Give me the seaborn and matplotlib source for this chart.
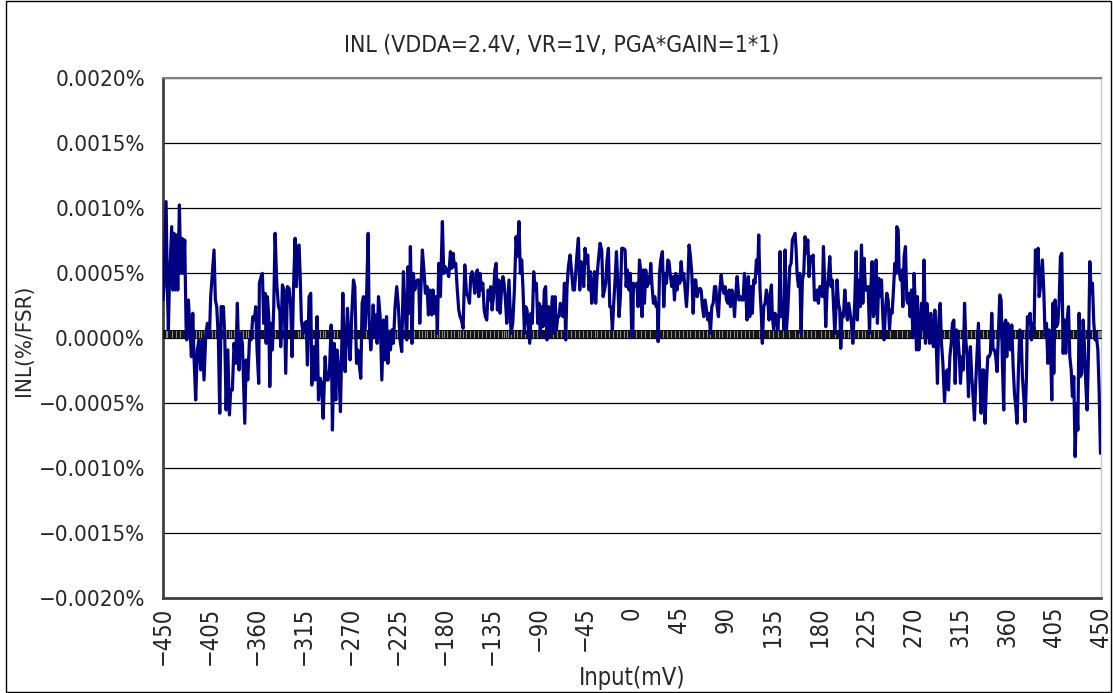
import matplotlib
matplotlib.use("Agg")
import matplotlib.pyplot as plt
import seaborn as sns
from matplotlib.patches import Rectangle

# Input voltage (mV) and INL (%/FSR)
input_mv = [
    -450.0, -449.1, -447.1, -445.9, -444.9, -443.9, -441.7, -440.7, -439.5, -438.2,
    -436.9, -435.9, -434.3, -433.1, -431.8, -430.5, -429.2, -427.9, -427.3, -425.7,
    -424.1, -422.8, -421.5, -420.3, -418.7, -417.1, -415.5, -413.9, -412.3, -410.7,
    -409.1, -407.5, -405.5, -404.3, -402.7, -401.1, -399.8, -398.5, -396.9, -395.6,
    -394.3, -392.1, -390.8, -389.5, -387.9, -386.3, -385.1, -383.5, -381.9, -380.3,
    -378.7, -377.1, -375.8, -373.9, -371.6, -370.3, -368.7, -367.1, -365.5, -363.9,
    -362.3, -361.1, -359.8, -358.2, -357.6, -355.9, -354.7, -353.4, -352.1, -351.1,
    -349.9, -348.6, -347.6, -346.3, -345.1, -343.8, -342.5,
    -340.9, -339.3, -338.0, -337.1, -335.5, -333.9, -332.3, -330.7, -329.1, -327.5,
    -326.2, -324.9, -323.3, -322.0, -320.7, -319.5, -318.5, -317.3, -315.6, -314.0,
    -312.7, -311.5, -309.9, -308.3, -307.3, -305.7, -304.1, -302.2, -300.9, -299.3,
    -298.0, -296.4, -294.5, -293.2, -291.6, -290.3, -288.7, -287.5, -285.9, -284.3,
    -283.0, -281.4, -279.8, -278.5, -277.5, -276.3, -275.3, -274.0, -273.1, -271.8,
    -270.5, -268.9, -267.3, -266.0, -264.4, -263.1, -261.9, -260.3, -259.0, -257.7,
    -256.4, -254.8, -253.2, -252.3, -250.7, -249.4, -248.4, -247.1, -245.9, -244.6,
    -243.3, -241.7, -240.1, -238.5, -236.9, -235.6, -234.3, -233.1, -231.8, -230.5,
    -229.0, -227.4, -225.8, -224.2, -222.6, -221.0, -219.4, -217.8, -216.2, -214.9,
    -213.6, -212.7, -211.1, -209.8, -208.5, -207.2, -205.9, -204.7, -203.7, -202.4,
    -201.2, -199.5, -198.3, -196.7, -195.4, -193.8, -192.2, -190.9, -189.6, -188.0,
    -186.8, -185.5, -183.9, -182.0, -180.7, -179.4, -177.8, -175.9, -174.3, -173.0,
    -171.7, -170.5, -169.2, -167.9, -166.3, -165.0, -163.7, -162.1, -160.5, -158.9,
    -157.3, -156.0, -154.8, -153.5, -152.2, -150.9, -149.6, -148.4, -147.1, -145.8,
    -144.5, -143.2, -141.9, -140.7, -139.4, -138.1, -136.8, -135.6, -134.3, -133.0,
    -131.7, -130.4, -129.2, -127.9, -126.6, -125.3, -124.0, -122.8, -121.5, -120.2,
    -118.1, -116.1, -114.5, -112.9, -111.3, -110.1, -108.5, -107.2, -105.9, -104.6,
    -103.3, -102.1, -100.8, -99.5, -98.2, -96.9, -95.7, -94.4, -93.1, -91.8,
    -90.5, -89.3, -88.0, -86.7, -85.4, -84.2, -82.9, -81.6, -80.3, -79.0,
    -77.7, -76.5, -75.2, -73.9, -72.6, -71.3, -70.1, -68.8, -67.5, -66.2,
    -64.9, -63.7, -62.4, -61.1, -59.5, -57.9, -56.6, -55.3, -54.1, -52.8,
    -51.5, -50.2, -48.9, -47.7, -46.4, -45.1, -43.8, -42.5, -41.3, -40.0,
    -38.7, -37.4, -36.1, -34.9, -33.6, -32.3, -30.7, -29.1, -27.8, -26.5,
    -25.3, -24.0, -22.7, -21.4, -20.1, -18.9, -17.6, -16.3, -15.0, -13.7,
    -12.5, -11.2, -9.9, -8.6,
    -6.7, -5.7, -4.5, -2.9, -1.6, -0.3, 0.7, 1.3, 2.9, 4.5,
    5.8, 7.1, 8.3, 9.6, 10.9, 11.9, 13.1, 14.4, 15.7, 17.0,
    17.9, 19.2, 20.5, 21.8, 23.1, 24.3, 25.0, 26.3, 27.5, 29.1,
    30.4, 31.7, 33.0, 34.3, 35.5, 36.8, 38.1, 39.4, 40.7, 41.9,
    43.2, 44.5, 45.8, 47.1, 48.3, 49.6, 50.9, 52.2, 53.5, 54.7,
    56.0, 57.3, 58.6, 59.9, 61.1, 62.4, 63.7, 65.0, 66.3, 67.5,
    68.8, 70.1, 71.4, 72.7, 73.9, 75.2, 76.5, 77.8, 79.1, 80.3,
    81.6, 82.9, 84.2, 85.5, 86.7, 88.0, 89.3, 90.6, 91.9, 93.1,
    94.4, 95.7, 97.0, 98.3, 99.5, 100.8,
    102.6, 103.9, 105.2, 106.5, 107.8, 109.0, 110.3, 111.6, 112.9, 114.2,
    115.4, 116.7, 118.0, 119.3, 120.6, 121.5, 122.8, 124.1, 125.0, 126.3,
    127.6, 128.9, 130.2, 131.4, 132.7, 133.7, 134.6, 135.9, 137.2, 138.5,
    139.8, 141.0, 142.0, 143.3, 144.6, 145.8, 146.8, 148.1, 149.4, 150.3,
    151.3, 152.6, 153.8, 155.1, 156.4, 157.4, 158.3, 159.6, 160.9, 162.2,
    163.4, 164.7, 166.0, 167.3, 168.6, 169.8, 171.1, 172.4, 173.7, 175.0,
    176.2, 177.5, 178.8, 180.1, 181.4, 182.6, 183.6, 184.6, 185.8, 187.1,
    188.4, 189.7, 191.0, 192.2, 193.5, 194.5, 195.8, 196.7, 198.0, 199.3,
    200.2, 201.5, 202.8, 204.1, 205.4, 206.6, 207.9, 209.2, 210.5, 211.8,
    213.7, 215.0, 216.2, 217.5, 218.8, 220.1, 221.4, 222.6, 223.9, 225.2,
    226.5, 227.8, 229.0, 230.3, 231.6, 232.9, 234.2, 235.4, 236.7, 238.0,
    239.3, 240.6, 241.8, 243.1, 244.4, 245.7, 247.0, 248.2, 249.5, 250.8,
    252.1, 253.4, 254.0, 255.3, 256.2, 257.5, 258.8, 259.8, 261.0, 262.3,
    263.6, 264.6, 265.5, 266.8, 268.1, 269.4, 270.6, 271.6, 272.9, 273.8,
    275.1, 276.4, 277.7, 279.0, 280.2, 281.5, 282.8, 284.1, 285.4, 286.6,
    287.9, 289.2, 290.5, 291.8, 293.0, 294.3, 295.6, 296.9, 298.2, 299.8,
    301.0, 302.3, 303.6, 304.9, 306.2, 307.4, 308.7, 310.0, 311.3, 312.6,
    313.8, 315.1, 316.4, 317.7, 319.0, 320.2, 321.5, 322.8,
    323.3, 324.6, 325.9, 327.2, 328.5, 329.7, 331.0, 332.3, 333.6, 334.9,
    336.1, 337.4, 338.7, 340.0, 341.3, 342.5, 343.8, 345.1, 346.4, 347.7,
    348.9, 350.2, 351.5, 352.8, 354.1, 355.3, 356.6, 357.6, 358.5, 359.5,
    360.5, 361.7, 363.0, 364.3, 365.6, 366.9, 368.1, 369.4, 370.7, 372.0,
    373.3, 374.5, 375.8, 377.1, 378.4, 379.3, 380.6, 381.9, 383.2, 384.5,
    385.7, 387.0, 388.3, 389.6, 390.5, 391.5, 392.5, 393.7, 395.0, 396.3,
    397.6, 398.9, 400.1, 401.4, 402.7, 403.7, 404.6, 405.9, 407.2, 408.5,
    409.7, 411.0, 412.3, 413.6, 414.9, 416.1, 417.4, 418.7, 420.0, 421.3,
    422.5, 423.8, 425.1, 426.4, 427.7, 428.9, 430.2, 431.5, 432.8, 434.1,
    435.3, 436.6, 437.9, 439.2, 440.5, 441.7, 443.0, 444.3, 445.6, 446.9,
    448.1, 449.4, 450.0,
]

inl_pct = [
    0.000292, 0.000395, 0.001049, 0.000395, 0.000062, 0.000421, 0.000856, 0.000369, 0.000805, 0.000369,
    0.000792, 0.000369, 0.001023, 0.000497, 0.000767, 0.000497, 0.000754, 0.000087, -0.000015, 0.000292,
    0.000062, -0.000144, 0.000190, -0.000144, -0.000477, -0.000092, -0.000015, -0.000246, -0.000015, -0.000323,
    0.000010, 0.000113, 0.000010, 0.000318, 0.000497, 0.000677, 0.000292, 0.000241, -0.000015, -0.000579,
    0.000241, 0.000241, 0.000010, -0.000554, -0.000092, -0.000592, -0.000400, -0.000400, -0.000041, -0.000195,
    0.000267, -0.000246, 0.000036, -0.000041, -0.000656, -0.000169, -0.000323, -0.000015, -0.000015, 0.000164,
    0.000138, 0.000241, -0.000092, -0.000349, 0.000421, 0.000472, 0.000497, 0.000113, 0.000344, -0.000041,
    0.000318, 0.000164, -0.000374, 0.000113, -0.000092, 0.000241, 0.000805,
    0.000421, 0.000241, 0.000215, -0.000067, 0.000408, 0.000369, -0.000272, 0.000395, 0.000382, 0.000241,
    -0.000144, 0.000369, 0.000767, 0.000395, 0.000703, 0.000715, 0.000497, 0.000138, 0.000036, 0.000113,
    0.000126, -0.000208, 0.000318, 0.000344, -0.000362, -0.000067, -0.000323, 0.000164, -0.000477, -0.000310,
    -0.000349, -0.000618, -0.000144, -0.000323, -0.000323, -0.000246, 0.000100, -0.000708, -0.000041, -0.000477,
    -0.000092, -0.000246, -0.000567, -0.000041, 0.000344, -0.000118, -0.000259, 0.000036, 0.000228, 0.000010,
    -0.000169, 0.000190, 0.000446, 0.000395, -0.000195, -0.000092, -0.000195, -0.000310, 0.000267, 0.000318,
    0.000062, 0.000292, 0.000805, 0.000138, -0.000092, 0.000062, 0.000254, 0.000010, 0.000177, -0.000041,
    0.000318, 0.000164, -0.000323, 0.000138, -0.000169, 0.000164, -0.000195, 0.000036, -0.000092, 0.000062,
    -0.000041, 0.000241, 0.000395, 0.000241, -0.000015, -0.000105, 0.000510, 0.000215, -0.000015, 0.000549,
    0.000190, 0.000703, -0.000041, 0.000497, 0.000369, 0.000421, 0.000446, 0.000446, 0.000113, 0.000421,
    0.000677, 0.000497, 0.000344, 0.000395, 0.000177, 0.000369, 0.000177, 0.000369, 0.000190, 0.000318,
    0.000036, 0.000574, 0.000318, 0.000895, 0.000497, 0.000549, 0.000523, 0.000472, 0.000664, 0.000536,
    0.000651, 0.000549, 0.000574, 0.000395, 0.000215, 0.000164, 0.000138, 0.000074, 0.000562, 0.000344,
    0.000318, 0.000267, 0.000472, 0.000510, 0.000446, 0.000344, 0.000497, 0.000523, 0.000318, 0.000497,
    0.000369, 0.000421, 0.000215, 0.000164, 0.000138, 0.000369, 0.000292, 0.000395, 0.000215, 0.000318,
    0.000523, 0.000574, 0.000215, 0.000446, 0.000190, 0.000369, 0.000472, 0.000421, 0.000292, 0.000113,
    0.000446, 0.000036, 0.000113, 0.000369, 0.000779, 0.000626, 0.000895, 0.000497, 0.000600, 0.000369,
    0.000036, 0.000241, 0.000215, 0.000087, -0.000041, 0.000190, 0.000113, 0.000510, 0.000369, 0.000421,
    0.000113, 0.000267, 0.000010, 0.000241, 0.000087, 0.000369, 0.000395, -0.000015, 0.000241, 0.000010,
    0.000164, 0.000318, 0.000036, 0.000318, 0.000062, 0.000164, 0.000164, 0.000267, 0.000190, 0.000164,
    0.000421, -0.000015, 0.000395, 0.000549, 0.000638, 0.000497, 0.000369, 0.000369, 0.000497, 0.000651,
    0.000767, 0.000369, 0.000587, 0.000523, 0.000395, 0.000690, 0.000574, 0.000638, 0.000369, 0.000510,
    0.000267, 0.000369, 0.000510, 0.000267, 0.000472, 0.000600, 0.000728, 0.000677, 0.000318, 0.000369,
    0.000421, 0.000600, 0.000690, 0.000241, 0.000241, 0.000062, 0.000267, 0.000446, 0.000664, 0.000421,
    0.000164, 0.000318, 0.000690, 0.000690,
    0.000677, 0.000395, 0.000523, 0.000369, 0.000497, 0.000010, 0.000010, 0.000421, 0.000395, 0.000421,
    0.000241, 0.000600, 0.000523, 0.000164, 0.000523, 0.000267, 0.000523, 0.000395, 0.000472, 0.000421,
    0.000574, 0.000395, 0.000267, 0.000318, 0.000241, 0.000241, -0.000028, 0.000497, 0.000600, 0.000664,
    0.000241, 0.000497, 0.000421, 0.000600, 0.000587, 0.000472, 0.000395, 0.000472, 0.000292, 0.000497,
    0.000369, 0.000472, 0.000421, 0.000587, 0.000446, 0.000497, 0.000369, 0.000241, 0.000421, 0.000715,
    0.000626, 0.000497, 0.000190, 0.000446, 0.000446, 0.000318, 0.000369, 0.000382, 0.000369, 0.000241,
    0.000164, 0.000292, 0.000215, 0.000138, 0.000190, 0.000036, 0.000241, 0.000267, 0.000395, 0.000395,
    0.000241, 0.000164, 0.000369, 0.000485, 0.000395, 0.000344, 0.000395, 0.000292, 0.000267, 0.000369,
    0.000241, 0.000369, 0.000318, 0.000164, 0.000344, 0.000472,
    0.000292, 0.000318, 0.000292, 0.000292, 0.000497, 0.000369, 0.000138, 0.000472, 0.000164, 0.000395,
    0.000190, 0.000446, 0.000421, 0.000600, 0.000497, 0.000792, 0.000369, 0.000164, -0.000041, 0.000241,
    0.000267, 0.000369, 0.000292, 0.000138, 0.000344, 0.000408, 0.000164, 0.000062, 0.000190, 0.000164,
    0.000062, 0.000190, 0.000664, 0.000164, 0.000267, 0.000062, 0.000677, 0.000062, 0.000215, 0.000369,
    0.000549, 0.000574, 0.000754, 0.000779, 0.000805, 0.000677, 0.000497, 0.000395, 0.000497, 0.000036,
    0.000446, 0.000497, 0.000779, 0.000651, 0.000754, 0.000472, 0.000626, 0.000600, 0.000638, 0.000292,
    0.000292, 0.000369, 0.000267, 0.000395, 0.000395, 0.000318, 0.000703, 0.000472, 0.000087, 0.000369,
    0.000472, 0.000626, 0.000395, 0.000446, 0.000215, 0.000036, 0.000241, 0.000446, 0.000267, 0.000215,
    -0.000079, 0.000190, 0.000164, 0.000369, 0.000215, 0.000138, 0.000267, 0.000190, 0.000113, -0.000041,
    0.000292, 0.000664, 0.000138, 0.000446, 0.000241, 0.000715, 0.000267, 0.000613, 0.000369, 0.000369,
    0.000395, 0.000036, 0.000369, 0.000587, 0.000164, 0.000215, 0.000600, 0.000113, 0.000459, 0.000318,
    0.000446, 0.000164, -0.000015, 0.000215, 0.000344, 0.000292, 0.000062, 0.000215, 0.000190, 0.000369,
    0.000574, 0.000497, 0.000856, 0.000831, 0.000523, 0.000446, 0.000523, 0.000241, 0.000626, 0.000703,
    0.000292, 0.000267, 0.000344, 0.000164, 0.000369, 0.000010, 0.000497, 0.000267, -0.000092, 0.000318,
    -0.000092, 0.000062, 0.000267, 0.000062, 0.000600, -0.000041, 0.000267, 0.000138, -0.000041, 0.000190,
    -0.000015, -0.000067, 0.000215, -0.000041, -0.000349, 0.000138, 0.000267, -0.000041, -0.000195, -0.000490,
    -0.000272, -0.000246, -0.000400, -0.000144, -0.000041, 0.000113, 0.000138, -0.000349, 0.000062, 0.000010,
    -0.000118, -0.000349, -0.000144, -0.000246, 0.000267, -0.000015, -0.000144, -0.000451,
    -0.000246, -0.000067, -0.000297, -0.000451, -0.000631, -0.000349, -0.000118, 0.000113, -0.000297, -0.000579,
    -0.000246, -0.000246, -0.000656, -0.000349, -0.000144, -0.000144, -0.000118, 0.000190, -0.000092, -0.000092,
    -0.000144, -0.000259, 0.000036, 0.000331, 0.000292, -0.000195, -0.000554, 0.000113, 0.000138, -0.000144,
    0.000113, -0.000015, -0.000092, 0.000100, -0.000221, -0.000426, -0.000528, -0.000656, -0.000246, 0.000062,
    0.000036, -0.000297, -0.000451, -0.000644, -0.000297, 0.000164, 0.000113, 0.000190, -0.000015, 0.000113,
    0.000062, 0.000677, 0.000497, 0.000690, 0.000318, 0.000369, 0.000497, 0.000600, 0.000369, 0.000010,
    0.000113, -0.000195, 0.000062, -0.000015, -0.000477, 0.000267, -0.000272, 0.000292, 0.000087, 0.000113,
    0.000267, 0.000626, 0.000651, -0.000118, 0.000138, -0.000118, 0.000138, 0.000241, -0.000144, -0.000246,
    -0.000451, -0.000297, -0.000913, -0.000503, -0.000708, 0.000190, -0.000297, -0.000272, 0.000138, -0.000067,
    -0.000349, -0.000554, -0.000118, 0.000587, 0.000344, 0.000421, 0.000113, -0.000015, 0.000010, -0.000092,
    -0.000400, -0.000887, -0.000887,
]

# flat reference series drawn as the striped band near zero
ref_level_pct = 0.00003

x_ticks = [-450, -405, -360, -315, -270, -225, -180, -135, -90, -45, 0,
           45, 90, 135, 180, 225, 270, 315, 360, 405, 450]
y_ticks = [-0.0020, -0.0015, -0.0010, -0.0005, 0.0, 0.0005, 0.0010, 0.0015, 0.0020]

sns.set_style("white")
plt.rcParams['font.family'] = ['DejaVu Sans']
plt.rcParams['font.stretch'] = 'condensed'

fig = plt.figure(figsize=(11.13, 6.93), dpi=100)
ax = fig.add_axes([0.1465, 0.1371, 0.8428, 0.7504])

# striped band (dense square markers)
sns.scatterplot(x=input_mv, y=[ref_level_pct] * len(input_mv), marker='s', s=30,
                color='#8c8c8c', edgecolor='black', linewidth=0.6, ax=ax, zorder=3)

# INL curve
sns.lineplot(x=input_mv, y=inl_pct, sort=False, estimator=None, color='#000080',
             linewidth=2.3, ax=ax, zorder=4)

ax.set_xlim(-450, 450)
ax.set_ylim(-0.0020, 0.0020)
ax.set_xticks(x_ticks)
ax.set_xticklabels([str(t).replace('-', '\u2212') for t in x_ticks], rotation=90, fontsize=17)
ax.set_yticks(y_ticks)
ax.set_yticklabels([f"{t:.4f}%".replace('-', '\u2212') for t in y_ticks], fontsize=16)
ax.tick_params(axis='y', direction='out', length=4, width=1.2, color='#404040', pad=9)
ax.tick_params(axis='x', length=0, pad=6)

ax.yaxis.grid(True, color='black', linewidth=0.9)
ax.xaxis.grid(False)
ax.set_axisbelow(True)

for side in ['left', 'bottom']:
    ax.spines[side].set_color('#404040')
    ax.spines[side].set_linewidth(2)
ax.spines['top'].set_color('#808080')
ax.spines['top'].set_linewidth(1.5)
ax.spines['right'].set_color('#c8c8c8')
ax.spines['right'].set_linewidth(1)

ax.set_xlabel('')
ax.set_ylabel('')
fig.text(0.505, 0.935, 'INL (VDDA=2.4V, VR=1V, PGA*GAIN=1*1)', ha='center', va='center', fontsize=16.5)
fig.text(0.568, 0.022, 'Input(mV)', ha='center', va='center', fontsize=17)
fig.text(0.022, 0.509, 'INL(%/FSR)', ha='center', va='center', rotation=90, fontsize=16)

# outer chart frame
fig.patches.append(Rectangle((0.005, 0.001), 0.993, 0.997, transform=fig.transFigure,
                             fill=False, edgecolor='black', linewidth=1))

fig.savefig('out.png', dpi=100)
